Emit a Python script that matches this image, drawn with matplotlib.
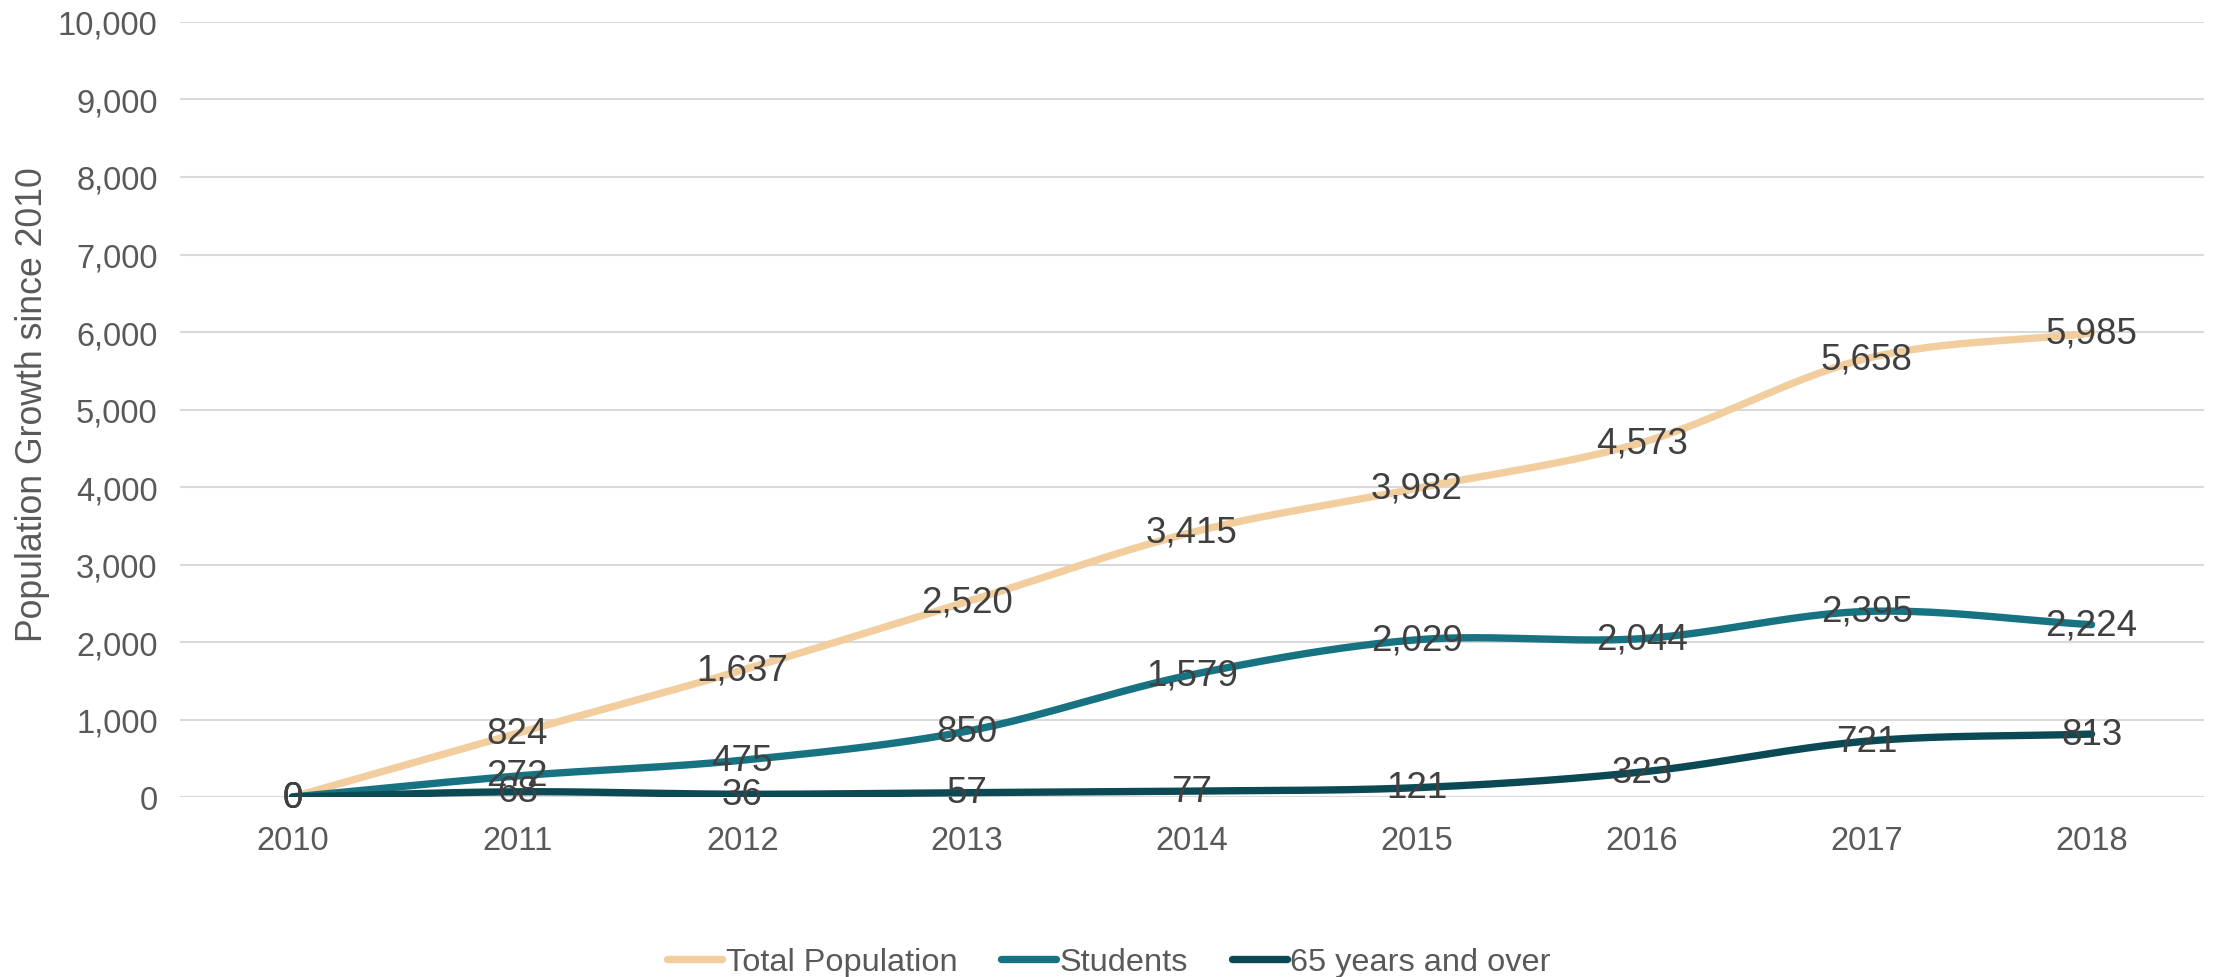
import numpy as np
import matplotlib
matplotlib.use('Agg')
import matplotlib.pyplot as plt
from matplotlib.ticker import FuncFormatter

plt.rcParams['font.family'] = ['Liberation Sans', 'DejaVu Sans']

years = ['2010', '2011', '2012', '2013', '2014', '2015', '2016', '2017', '2018']
total_pop = [0, 824, 1637, 2520, 3415, 3982, 4573, 5658, 5985]
students = [0, 272, 475, 850, 1579, 2029, 2044, 2395, 2224]
seniors = [0, 68, 36, 57, 77, 121, 323, 721, 813]

series = [
    ('Total Population', total_pop, '#F2CD9E'),
    ('Students', students, '#177382'),
    ('65 years and over', seniors, '#0B4A55'),
]


def smooth(xs, ys, n=40):
    # Catmull-Rom through the points, like a spreadsheet "smoothed line"
    xs = np.asarray(xs, float)
    ys = np.asarray(ys, float)
    px = np.concatenate([[2 * xs[0] - xs[1]], xs, [2 * xs[-1] - xs[-2]]])
    py = np.concatenate([[2 * ys[0] - ys[1]], ys, [2 * ys[-1] - ys[-2]]])
    out_x, out_y = [], []
    t = np.linspace(0, 1, n)
    for i in range(1, len(px) - 2):
        for p, out in ((px, out_x), (py, out_y)):
            p0, p1, p2, p3 = p[i - 1], p[i], p[i + 1], p[i + 2]
            c1 = p1 + (p2 - p0) / 6
            c2 = p2 - (p3 - p1) / 6
            seg = ((1 - t) ** 3 * p1 + 3 * (1 - t) ** 2 * t * c1
                   + 3 * (1 - t) * t ** 2 * c2 + t ** 3 * p2)
            out.extend(seg if i == 1 else seg[1:])
    return np.array(out_x), np.array(out_y)


fig = plt.figure(figsize=(22.16, 9.78), dpi=100)
ax = fig.add_axes([0.0812, 0.184, 0.9134, 0.7925])

x = np.arange(len(years))
for name, vals, col in series:
    sx, sy = smooth(x, vals)
    ax.plot(sx, sy, color=col, lw=5.3, solid_capstyle='round', label=name, zorder=3)

for name, vals, col in series:
    for xi, v in zip(x, vals):
        ax.text(xi, v, f'{v:,}', ha='center', va='center', fontsize=26.5,
                color='#404040', zorder=5)

ax.set_xlim(-0.5, len(years) - 0.5)
ax.set_ylim(0, 10000)
ax.set_yticks(np.arange(0, 10001, 1000))
ax.yaxis.set_major_formatter(FuncFormatter(lambda v, p: f'{int(v):,}'))
ax.set_xticks(x)
ax.set_xticklabels(years)
ax.tick_params(axis='both', length=0, labelsize=23.5, labelcolor='#595959')
ax.tick_params(axis='y', pad=16)
ax.tick_params(axis='x', pad=20)
ax.grid(axis='y', color='#D9D9D9', lw=1.5, zorder=0)
for s in ax.spines.values():
    s.set_visible(False)

ax.set_ylabel('Population Growth since 2010', fontsize=25.7, color='#595959')
ax.yaxis.set_label_coords(-0.064, 0.507)

fig.legend(loc='center', bbox_to_anchor=(0.5005, 0.015), ncol=3, frameon=False,
           fontsize=23.4, labelcolor='#595959', handlelength=1.7,
           handletextpad=0.1, columnspacing=1.35)

fig.savefig('out.png', dpi=100)
